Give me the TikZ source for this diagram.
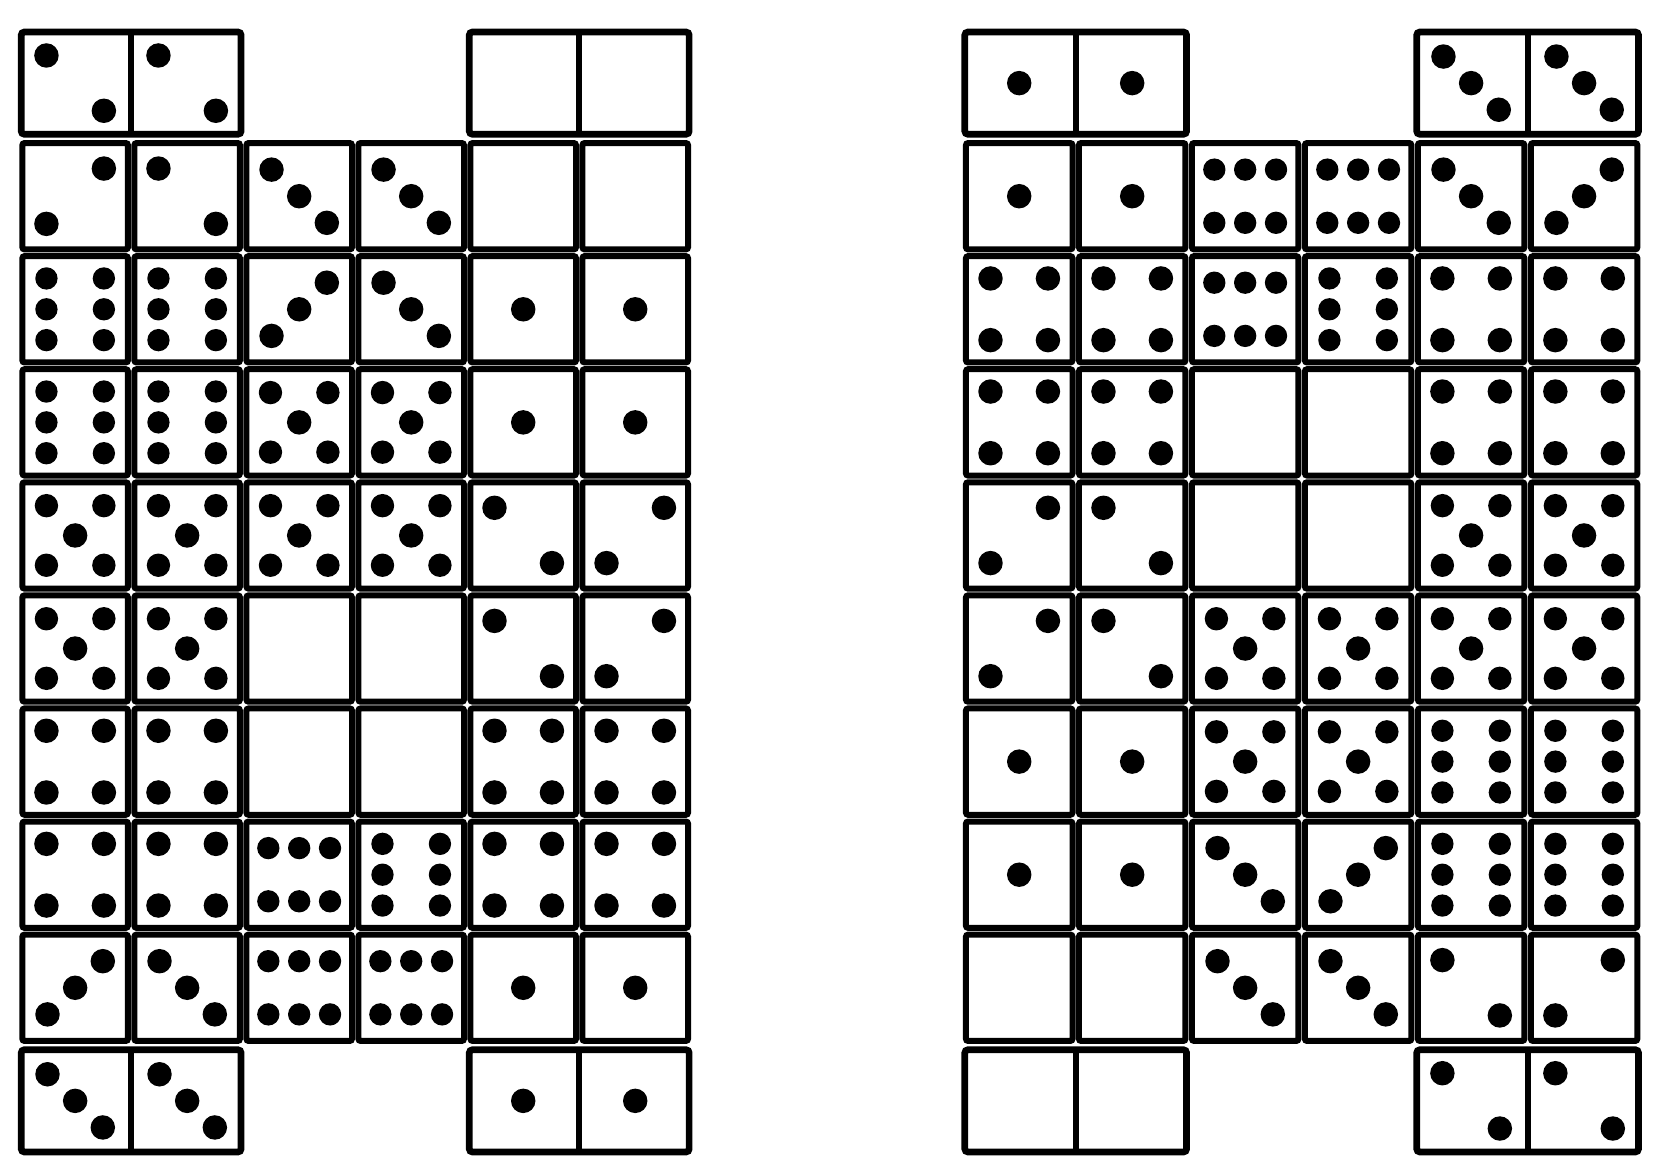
\documentclass[tikz,border=0pt]{standalone}
\begin{document}
\begin{tikzpicture}
\tikzset{
  cellbox/.style={draw=black, line width=1.6pt, rounded corners=0.6pt},
  dombox/.style={draw=black, line width=1.8pt, rounded corners=0.8pt},
  divline/.style={draw=black, line width=1.6pt},
  pipfill/.style={fill=black},
  pics/nn/.style={code={}},
  pics/p0/.style={code={}},
  pics/p1/.style={code={\fill[pipfill] (0,0) circle[radius=0.115];}},
  pics/p2a/.style={code={\fill[pipfill] (-0.27,0.26) circle[radius=0.115] (0.27,-0.26) circle[radius=0.115];}},
  pics/p2b/.style={code={\fill[pipfill] (0.27,0.26) circle[radius=0.115] (-0.27,-0.26) circle[radius=0.115];}},
  pics/p3a/.style={code={\fill[pipfill] (-0.26,0.25) circle[radius=0.115] (0,0) circle[radius=0.115] (0.26,-0.25) circle[radius=0.115];}},
  pics/p3b/.style={code={\fill[pipfill] (0.26,0.25) circle[radius=0.115] (0,0) circle[radius=0.115] (-0.26,-0.25) circle[radius=0.115];}},
  pics/p4/.style={code={\fill[pipfill] (-0.27,0.29) circle[radius=0.115] (0.27,0.29) circle[radius=0.115] (-0.27,-0.29) circle[radius=0.115] (0.27,-0.29) circle[radius=0.115];}},
  pics/p5/.style={code={\fill[pipfill] (-0.27,0.28) circle[radius=0.11] (0.27,0.28) circle[radius=0.11] (0,0) circle[radius=0.115] (-0.27,-0.28) circle[radius=0.11] (0.27,-0.28) circle[radius=0.11];}},
  pics/p6v/.style={code={\foreach \yy in {0.29,0,-0.29} {\fill[pipfill] (-0.27,\yy) circle[radius=0.105] (0.27,\yy) circle[radius=0.105];}}},
  pics/p6h/.style={code={\foreach \xx in {-0.29,0,0.29} {\fill[pipfill] (\xx,0.25) circle[radius=0.105] (\xx,-0.25) circle[radius=0.105];}}},
}
\newcommand\dgrid[3]{%
  \foreach \row/\pats in {#3} {
    \foreach \pat [count=\c from 0] in \pats {
      \pgfmathsetmacro\cx{#1+(\c+0.5)*#2}
      \pgfmathsetmacro\cy{-0.25-(\row+0.5)*1.063}
      \path (\cx,\cy) pic {\pat};
      \ifnum\row=0 \else\ifnum\row=9 \else
        \draw[cellbox] ({\cx-#2/2+0.03},{\cy-0.5}) rectangle ({\cx+#2/2-0.03},{\cy+0.5});
      \fi\fi
    }
  }
}
\newcommand\ddomino[4]{% x0, w, row, col
  \pgfmathsetmacro\dxa{#1+#4*#2+0.02}
  \pgfmathsetmacro\dxm{#1+(#4+1)*#2}
  \pgfmathsetmacro\dxb{#1+(#4+2)*#2-0.02}
  \pgfmathsetmacro\dcy{-0.25-(#3+0.5)*1.063}
  \draw[dombox] (\dxa,{\dcy-0.48}) rectangle (\dxb,{\dcy+0.48});
  \draw[divline] (\dxm,{\dcy-0.48}) -- (\dxm,{\dcy+0.48});
}
\useasboundingbox (0,0) rectangle (15.68,-11.03);
% left figure
\dgrid{0.18}{1.053}{
  0/{p2a,p2a,nn,nn,p0,p0},
  1/{p2b,p2a,p3a,p3a,p0,p0},
  2/{p6v,p6v,p3b,p3a,p1,p1},
  3/{p6v,p6v,p5,p5,p1,p1},
  4/{p5,p5,p5,p5,p2a,p2b},
  5/{p5,p5,p0,p0,p2a,p2b},
  6/{p4,p4,p0,p0,p4,p4},
  7/{p4,p4,p6h,p6v,p4,p4},
  8/{p3b,p3a,p6h,p6h,p1,p1},
  9/{p3a,p3a,nn,nn,p1,p1}}
\ddomino{0.18}{1.053}{0}{0}
\ddomino{0.18}{1.053}{0}{4}
\ddomino{0.18}{1.053}{9}{0}
\ddomino{0.18}{1.053}{9}{4}
% right figure
\dgrid{9.05}{1.062}{
  0/{p1,p1,nn,nn,p3a,p3a},
  1/{p1,p1,p6h,p6h,p3a,p3b},
  2/{p4,p4,p6h,p6v,p4,p4},
  3/{p4,p4,p0,p0,p4,p4},
  4/{p2b,p2a,p0,p0,p5,p5},
  5/{p2b,p2a,p5,p5,p5,p5},
  6/{p1,p1,p5,p5,p6v,p6v},
  7/{p1,p1,p3a,p3b,p6v,p6v},
  8/{p0,p0,p3a,p3a,p2a,p2b},
  9/{p0,p0,nn,nn,p2a,p2a}}
\ddomino{9.05}{1.062}{0}{0}
\ddomino{9.05}{1.062}{0}{4}
\ddomino{9.05}{1.062}{9}{0}
\ddomino{9.05}{1.062}{9}{4}
\end{tikzpicture}
\end{document}
